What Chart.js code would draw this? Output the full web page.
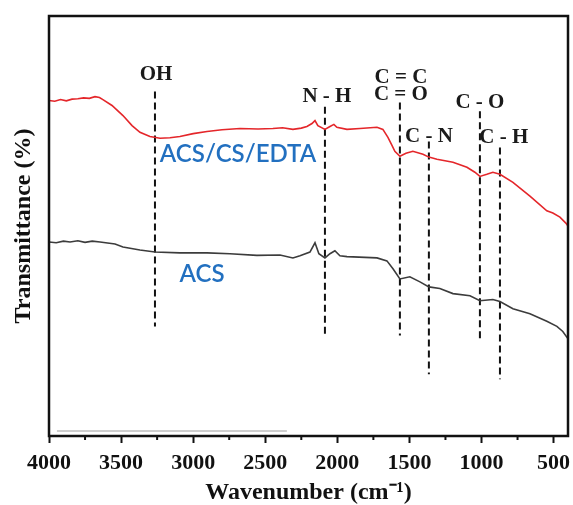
<!DOCTYPE html>
<html>
<head>
<meta charset="utf-8">
<script src="https://cdn.jsdelivr.net/npm/chart.js@4.4.1/dist/chart.umd.min.js"></script>
<style>
  html, body { margin: 0; padding: 0; background: #fff; }
</style>
</head>
<body>
<canvas id="ftir" width="573" height="505"></canvas>
<script>
// ---- spectra (wavenumber cm-1, transmittance in arbitrary units) ----
const edtaWn = [4000, 3960, 3920, 3880, 3840, 3800, 3760, 3720, 3681, 3650, 3626, 3563, 3487, 3424, 3369, 3300, 3230, 3161, 3092, 3000, 2904, 2800, 2675, 2550, 2447, 2380, 2308, 2250, 2211, 2176, 2155, 2135, 2086, 2051, 2024, 2003, 1933, 1843, 1725, 1684, 1649, 1621, 1601, 1566, 1524, 1476, 1406, 1365, 1309, 1198, 1101, 1046, 1011, 963, 921, 872, 782, 664, 547, 505, 456, 415, 400];
const edtaT  = [79.9, 79.7, 80.1, 79.8, 80.2, 80.3, 80.5, 80.4, 80.8, 80.6, 80.1, 78.7, 76.3, 73.9, 72.3, 71.3, 70.9, 71.0, 71.3, 72.0, 72.5, 72.9, 73.2, 73.1, 73.2, 73.4, 73.0, 73.3, 73.7, 74.4, 75.1, 73.9, 73.0, 73.7, 74.2, 73.5, 73.0, 73.2, 73.5, 73.0, 71.1, 69.2, 67.8, 66.6, 67.3, 67.8, 67.1, 66.4, 65.9, 65.2, 64.0, 62.8, 61.8, 62.3, 62.8, 62.3, 60.4, 57.1, 53.6, 53.1, 52.1, 50.7, 50.0];

const acsWn = [4000, 3950, 3900, 3854, 3800, 3750, 3700, 3646, 3542, 3487, 3369, 3265, 3092, 2904, 2745, 2558, 2398, 2308, 2259, 2190, 2155, 2128, 2086, 2051, 2017, 1982, 1933, 1725, 1656, 1614, 1566, 1497, 1427, 1365, 1289, 1198, 1080, 1011, 921, 872, 782, 664, 547, 477, 436, 401];
const acsT  = [46.2, 46.0, 46.4, 46.2, 46.5, 46.1, 46.4, 46.2, 45.7, 45.0, 44.3, 43.8, 43.6, 43.6, 43.4, 43.0, 43.1, 42.4, 42.9, 43.8, 46.0, 43.4, 42.4, 43.4, 44.1, 42.9, 42.7, 42.4, 41.7, 39.8, 37.4, 37.9, 36.7, 35.5, 35.1, 33.9, 33.4, 32.2, 32.5, 32.0, 30.3, 29.1, 27.3, 26.1, 24.9, 23.2];

// faint grey stroke near the bottom of the original figure
const greyWn = [3945, 2350];
const greyT  = [1.2, 1.2];

// ---- assigned bands (dashed markers) ----
const bandNames  = ['OH', 'N - H', 'C = O', 'C - N', 'C - O', 'C - H'];
const bandWn     = [3265, 2086, 1566, 1365, 1011, 872];
const bandTop    = [82.0, 78.4, 79.4, 70.1, 77.3, 68.7];
const bandBottom = [26.1, 23.7, 23.9, 14.7, 22.5, 13.5];

// x axis ticks
const majorTicks = [4000, 3500, 3000, 2500, 2000, 1500, 1000, 500];
const minorTicks = [3750, 3250, 2750, 2250, 1750, 1250, 750];

// text placed on the plot (data coordinates)
const bandLabels = [
  { text: 'OH',    wn: 3258, t: 86.0 },
  { text: 'N - H', wn: 2072, t: 80.8 },
  { text: 'C = C', wn: 1559, t: 85.3 },
  { text: 'C = O', wn: 1559, t: 81.3 },
  { text: 'C - N', wn: 1365, t: 71.3 },
  { text: 'C - O', wn: 1011, t: 79.4 },
  { text: 'C - H', wn: 845,  t: 71.1 }
];
const sampleLabels = [
  { text: 'ACS/CS/EDTA', wn: 2689, t: 67.1 },
  { text: 'ACS',         wn: 2939, t: 38.6 }
];

const toPoints = (xs, ys) => xs.map((v, i) => ({ x: v, y: ys[i] }));

const datasets = [
  { label: 'ACS/CS/EDTA', data: toPoints(edtaWn, edtaT), borderColor: 'rgb(228, 38, 42)', borderWidth: 1.6 },
  { label: 'ACS', data: toPoints(acsWn, acsT), borderColor: 'rgb(60, 60, 60)', borderWidth: 1.6 },
  { label: 'grey', data: toPoints(greyWn, greyT), borderColor: 'rgb(190, 190, 190)', borderWidth: 1.5 }
];
bandWn.forEach((wn, i) => {
  datasets.push({
    label: bandNames[i],
    data: [{ x: wn, y: bandTop[i] }, { x: wn, y: bandBottom[i] }],
    borderColor: '#111',
    borderWidth: 2,
    borderDash: [7, 4]
  });
});

// frame, minor ticks and the text on the plot
const extras = {
  id: 'extras',
  afterDatasetsDraw(chart) {
    const { ctx, chartArea: a, scales: { x, y } } = chart;
    ctx.save();
    ctx.strokeStyle = '#111';
    ctx.lineWidth = 2.5;
    ctx.strokeRect(a.left, a.top, a.right - a.left, a.bottom - a.top);

    ctx.lineWidth = 2;
    minorTicks.forEach(v => {
      const px = x.getPixelForValue(v);
      ctx.beginPath();
      ctx.moveTo(px, a.bottom);
      ctx.lineTo(px, a.bottom + 4);
      ctx.stroke();
    });

    ctx.textAlign = 'center';
    ctx.textBaseline = 'middle';
    ctx.fillStyle = '#1a1a1a';
    ctx.font = 'bold 21px "Liberation Serif"';
    bandLabels.forEach(l => ctx.fillText(l.text, x.getPixelForValue(l.wn), y.getPixelForValue(l.t)));

    ctx.fillStyle = 'rgb(34, 112, 192)';
    ctx.font = '600 24px Lato';
    sampleLabels.forEach(l => ctx.fillText(l.text, x.getPixelForValue(l.wn), y.getPixelForValue(l.t)));
    ctx.restore();
  }
};

new Chart(document.getElementById('ftir').getContext('2d'), {
  type: 'scatter',
  data: { datasets },
  options: {
    responsive: false,
    animation: false,
    showLine: true,
    elements: { point: { radius: 0 }, line: { tension: 0 } },
    layout: { padding: { top: 16, right: 5, left: 0, bottom: 0 } },
    plugins: { legend: { display: false }, tooltip: { enabled: false } },
    scales: {
      x: {
        type: 'linear',
        reverse: true,
        min: 400,
        max: 4000,
        afterFit: s => { s.height = 69; s.paddingLeft = 0; s.paddingRight = 0; },
        afterBuildTicks: s => { s.ticks = majorTicks.map(v => ({ value: v })); },
        ticks: {
          color: '#111',
          padding: 7,
          callback: v => String(v),
          font: { family: 'Liberation Serif', weight: 'bold', size: 22 }
        },
        grid: { drawOnChartArea: false, tickLength: 7, tickWidth: 2, tickColor: '#111' },
        border: { display: false },
        title: {
          display: true,
          text: 'Wavenumber (cm⁻¹)',
          color: '#111',
          padding: 0,
          font: { family: 'Liberation Serif', weight: 'bold', size: 24, lineHeight: 1.05 }
        }
      },
      y: {
        min: 0,
        max: 100,
        afterFit: s => { s.width = 49; },
        ticks: { display: false },
        grid: { display: false },
        border: { display: false },
        title: {
          display: true,
          text: 'Transmittance (%)',
          color: '#111',
          padding: { top: 9, bottom: 0 },
          font: { family: 'Liberation Serif', weight: 'bold', size: 24, lineHeight: 1.2 }
        }
      }
    }
  },
  plugins: [extras]
});
</script>
</body>
</html>
